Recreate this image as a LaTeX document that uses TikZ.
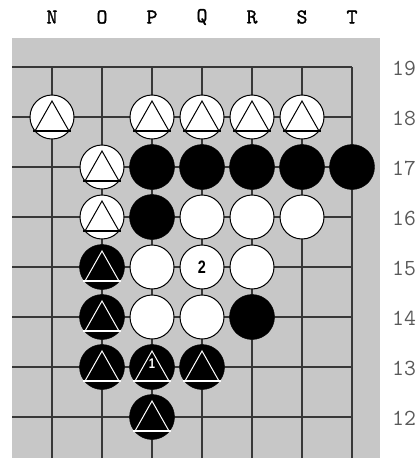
\documentclass[tikz,border=0pt]{standalone}
\usepackage{fontspec}
\setsansfont{Liberation Sans}
\newfontfamily\coordfont{Latin Modern Mono}[FakeBold=1.6]

\begin{document}
\begin{tikzpicture}[x=1pt, y=-1pt,
  wstone/.style={circle, draw=black, fill=white, line width=1pt, minimum size=44pt, inner sep=0pt},
  bstone/.style={circle, draw=black, fill=black, minimum size=45pt, inner sep=0pt},
  gridline/.style={draw=black!78, line width=1.4pt},
  wtri/.style={draw=black, fill=white, line width=1pt},
  btri/.style={draw=white, fill=black, line width=1pt},
  coordlabel/.style={font=\coordfont\fontsize{21}{21}\selectfont},
  rowlabel/.style={font=\ttfamily\fontsize{23}{23}\selectfont, text=black!65, anchor=west, inner sep=0pt}]
  \useasboundingbox (0,0) rectangle (418,458);
  % board
  \fill[black!22] (12,38) rectangle (380,458);
  \foreach \r in {12,...,19}
    \draw[gridline] (12,{67+50*(19-\r)}) -- (352,{67+50*(19-\r)});
  \foreach \c in {0,...,6}
    \draw[gridline] ({52+50*\c},67) -- ({52+50*\c},458);
  % coordinates
  \foreach \l [count=\i from 0] in {N,O,P,Q,R,S,T}
    \node[coordlabel] (col\l) at ({52+50*\i},17) {\l};
  \foreach \r in {12,...,19}
    \node[rowlabel] (row\r) at (392,{68+50*(19-\r)}) {\r};

  % white stones
  \node[wstone] (N18) at (52,117) {};
  \node[wstone] (P18) at (152,117) {};
  \node[wstone] (Q18) at (202,117) {};
  \node[wstone] (R18) at (252,117) {};
  \node[wstone] (S18) at (302,117) {};
  \node[wstone] (O17) at (102,167) {};
  \node[wstone] (O16) at (102,217) {};
  \node[wstone] (Q16) at (202,217) {};
  \node[wstone] (R16) at (252,217) {};
  \node[wstone] (S16) at (302,217) {};
  \node[wstone] (P15) at (152,267) {};
  \node[wstone, font=\sffamily\bfseries\fontsize{18}{18}\selectfont] (Q15) at (202,267) {\scalebox{0.8}[1]{2}};
  \node[wstone] (R15) at (252,267) {};
  \node[wstone] (P14) at (152,317) {};
  \node[wstone] (Q14) at (202,317) {};

  % black stones
  \node[bstone] (P17) at (152,167) {};
  \node[bstone] (Q17) at (202,167) {};
  \node[bstone] (R17) at (252,167) {};
  \node[bstone] (S17) at (302,167) {};
  \node[bstone] (T17) at (352,167) {};
  \node[bstone] (P16) at (152,217) {};
  \node[bstone] (R14) at (252,317) {};
  \node[bstone] (O15) at (102,267) {};
  \node[bstone] (O14) at (102,317) {};
  \node[bstone] (O13) at (102,367) {};
  \node[bstone] (P13) at (152,367) {};
  \node[bstone] (Q13) at (202,367) {};
  \node[bstone] (P12) at (152,417) {};

  % marks
  \foreach \s in {N18,P18,Q18,R18,S18,O17,O16}{
    \draw[wtri] (\s.center) ++(0,-16) -- ++(17,30) -- ++(-34,0) -- cycle;
    \draw[black, line width=2pt] (\s.center) ++(-19,14) -- ++(38,0);}
  \foreach \s in {O15,O14,O13,P13,Q13,P12}{
    \draw[btri] (\s.center) ++(0,-16) -- ++(17,30) -- ++(-34,0) -- cycle;
    \draw[white, line width=2pt] (\s.center) ++(-19,14) -- ++(38,0);}
  \node[text=white, font=\sffamily\bfseries\fontsize{14}{14}\selectfont] (one) at ([yshift=3pt]P13.center) {\scalebox{0.8}[1]{1}};
\end{tikzpicture}
\end{document}
